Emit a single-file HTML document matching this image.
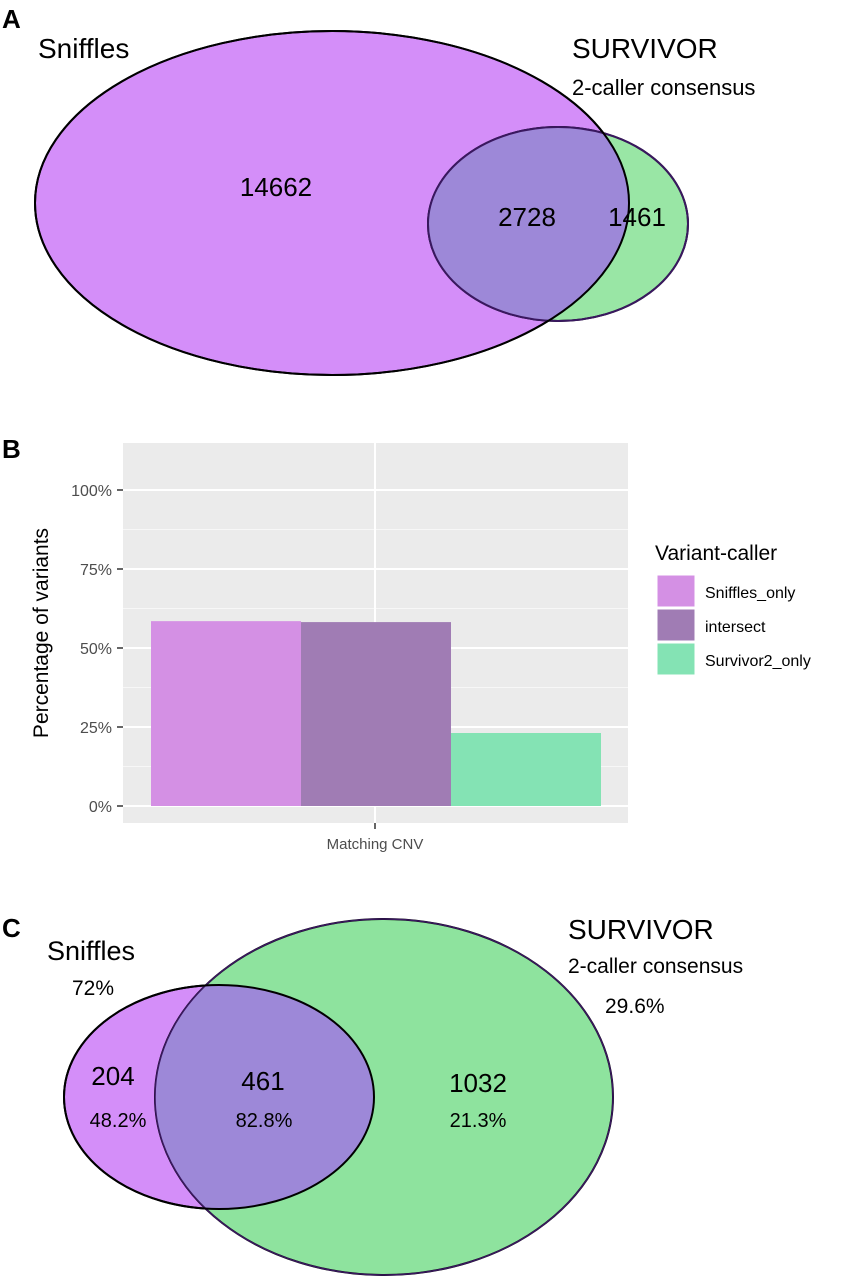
<!DOCTYPE html>
<html><head><meta charset="utf-8"><style>
body{margin:0;background:#fff;}
svg{display:block;font-family:"Liberation Sans",sans-serif;}
</style></head><body>
<svg width="850" height="1280" viewBox="0 0 850 1280">
<!-- Panel A -->
<g>
<text x="2" y="28" font-size="26" font-weight="bold">A</text>
<ellipse cx="332" cy="203" rx="297" ry="172" fill="#d48ef9" stroke="#000" stroke-width="2"/>
<ellipse cx="558" cy="224" rx="130" ry="97" fill="#7fe08f" fill-opacity="0.8" stroke="#000" stroke-width="2"/>
<clipPath id="ca"><ellipse cx="332" cy="203" rx="297" ry="172"/></clipPath>
<ellipse cx="558" cy="224" rx="130" ry="97" fill="#9d88d8" clip-path="url(#ca)"/>
<ellipse cx="558" cy="224" rx="130" ry="97" fill="none" stroke="#3a1860" stroke-width="2"/>
<ellipse cx="332" cy="203" rx="297" ry="172" fill="none" stroke="#000" stroke-width="2"/>
<text x="38" y="58" font-size="28">Sniffles</text>
<text x="572" y="58" font-size="28">SURVIVOR</text>
<text x="572" y="95" font-size="22">2-caller consensus</text>
<text x="276" y="196" font-size="26" text-anchor="middle">14662</text>
<text x="527" y="226" font-size="26" text-anchor="middle">2728</text>
<text x="637" y="226" font-size="26" text-anchor="middle">1461</text>
</g>
<!-- Panel B -->
<g id="pb">
<text x="2" y="458" font-size="26" font-weight="bold">B</text>
<rect x="123" y="443" width="505" height="380" fill="#ebebeb"/>
<g id="grid"></g>
<g id="bars"></g>
<g id="yticks"></g>
<line x1="375" y1="823" x2="375" y2="829" stroke="#333" stroke-width="1.5"/>
<text x="375" y="849" font-size="15" fill="#4d4d4d" text-anchor="middle">Matching CNV</text>
<text transform="translate(48,633) rotate(-90)" font-size="21" text-anchor="middle">Percentage of variants</text>
<text x="655" y="560" font-size="21">Variant-caller</text>
<g id="legend"></g>
</g>
<!-- Panel C -->
<g>
<text x="2" y="937" font-size="26" font-weight="bold">C</text>
<ellipse cx="219" cy="1097" rx="155" ry="112" fill="#d48ef9" stroke="#000" stroke-width="2"/>
<ellipse cx="384" cy="1097" rx="229" ry="178" fill="#8ee39e" stroke="#000" stroke-width="2"/>
<clipPath id="cc"><ellipse cx="384" cy="1097" rx="229" ry="178"/></clipPath>
<ellipse cx="219" cy="1097" rx="155" ry="112" fill="#9d88d8" clip-path="url(#cc)"/>
<ellipse cx="384" cy="1097" rx="229" ry="178" fill="none" stroke="#3a1860" stroke-width="1.5"/>
<ellipse cx="219" cy="1097" rx="155" ry="112" fill="none" stroke="#000" stroke-width="2"/>
<text x="47" y="960" font-size="27">Sniffles</text>
<text x="72" y="995" font-size="21">72%</text>
<text x="568" y="939" font-size="28">SURVIVOR</text>
<text x="568" y="973" font-size="21">2-caller consensus</text>
<text x="605" y="1013" font-size="21">29.6%</text>
<text x="113" y="1085" font-size="26" text-anchor="middle">204</text>
<text x="118" y="1127" font-size="20" text-anchor="middle">48.2%</text>
<text x="263" y="1090" font-size="26" text-anchor="middle">461</text>
<text x="264" y="1127" font-size="20" text-anchor="middle">82.8%</text>
<text x="478" y="1092" font-size="26" text-anchor="middle">1032</text>
<text x="478" y="1127" font-size="20" text-anchor="middle">21.3%</text>
</g>
</svg>
<script>
const categories = ["Sniffles_only", "intersect", "Survivor2_only"];
const values = [58.5, 58.2, 23.1];
const tickValues = [0, 25, 50, 75, 100];
const tickLabels = ["0%", "25%", "50%", "75%", "100%"];
const colors = ["#d490e4", "#a07cb4", "#84e3b4"];

const NS = "http://www.w3.org/2000/svg";
const y0 = 806, y100 = 490;
function yScale(v){ return y0 - (y0 - y100) * v / 100; }
const barLeft = 151, barW = 150;
function xScale(i){ return barLeft + i * barW; }
function mk(tag, attrs, parent){
  const e = document.createElementNS(NS, tag);
  for (const k in attrs) e.setAttribute(k, attrs[k]);
  parent.appendChild(e); return e;
}
const grid = document.getElementById("grid");
for (let i = 0; i < tickValues.length; i++) {
  const y = yScale(tickValues[i]);
  const l = mk("line", {x1:123, x2:628, y1:y, y2:y, stroke:"#fff", "stroke-width":2}, grid);
  
  
  if (i < tickValues.length - 1) {
    const ym = yScale((tickValues[i] + tickValues[i+1]) / 2);
    const m = mk("line", {x1:123, x2:628, y1:ym, y2:ym, stroke:"#f7f7f7", "stroke-width":1}, grid);
    
    
  }
}
mk("line", {x1:375, x2:375, y1:443, y2:823, stroke:"#fff", "stroke-width":2}, grid);
const bars = document.getElementById("bars");
for (let i = 0; i < values.length; i++) {
  const r = mk("rect", {x:xScale(i), y:yScale(values[i]), width:barW, height:y0 - yScale(values[i]), fill:colors[i]}, bars);
  
  
}
const yt = document.getElementById("yticks");
for (let i = 0; i < tickValues.length; i++) {
  const y = yScale(tickValues[i]);
  mk("line", {x1:117, x2:123, y1:y, y2:y, stroke:"#333", "stroke-width":1.5}, yt);
  const t = mk("text", {x:112, y:y + 6, "font-size":16, fill:"#4d4d4d", "text-anchor":"end"}, yt);
  t.textContent = tickLabels[i];
  
  
}
const lg = document.getElementById("legend");
for (let i = 0; i < categories.length; i++) {
  const y = 575 + i * 34;
  const k = mk("rect", {x:657, y:y, width:38, height:32, fill:colors[i], stroke:"#fff", "stroke-width":1}, lg);
  
  
  const t = mk("text", {x:705, y:y + 23, "font-size":16}, lg);
  t.textContent = categories[i];
  
  
}
</script>
</body></html>
